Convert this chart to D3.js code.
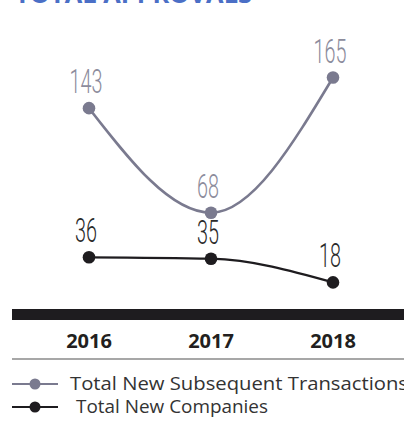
<!DOCTYPE html>
<html>
<head>
<meta charset="utf-8">
<script src="https://cdn.jsdelivr.net/npm/d3@7"></script>
<style>
  html, body { margin: 0; padding: 0; background: #fff; }
  svg { display: block; }
</style>
</head>
<body>
<svg id="chart" width="404" height="423"></svg>
<script>
// Yearly approval counts
const years = ["2016", "2017", "2018"];
const subsequentTransactions = [143, 68, 165];
const newCompanies = [36, 35, 18];
const seriesNames = ["Total New Subsequent Transactions", "Total New Companies"];
const titleText = "TOTAL APPROVALS";

const W = 404, H = 423;
const svg = d3.select("#chart");

const x = d3.scalePoint().domain(years).range([89, 333]);
const y = d3.scaleLinear().domain([0, 165]).range([307.5, 77.5]);

const greyLine = "#7a7a8f";
const greyLabel = "#8c8c9c";
const dark = "#1e1c1f";

// Title (runs off the top edge)
svg.append("text")
  .attr("x", 15).attr("y", 3)
  .attr("font-family", "Open Sans, sans-serif")
  .attr("font-weight", 700)
  .attr("font-size", 25)
  .attr("textLength", 237)
  .attr("lengthAdjust", "spacingAndGlyphs")
  .attr("fill", "#4b6fc6")
  .text(titleText);

const series = [
  { name: seriesNames[0], values: subsequentTransactions, stroke: greyLine, fill: greyLine, label: greyLabel, width: 2.6 },
  { name: seriesNames[1], values: newCompanies, stroke: dark, fill: dark, label: "#2a2a2a", width: 2.2 }
];

const line = d3.line()
  .x((d, i) => x(years[i]))
  .y(d => y(d))
  .curve(d3.curveMonotoneX);

series.forEach(s => {
  const g = svg.append("g");
  g.append("path")
    .attr("d", line(s.values))
    .attr("fill", "none")
    .attr("stroke", s.stroke)
    .attr("stroke-width", s.width);
  g.selectAll("circle")
    .data(s.values)
    .join("circle")
    .attr("cx", (d, i) => x(years[i]))
    .attr("cy", d => y(d))
    .attr("r", 6.3)
    .attr("fill", s.fill);
  // Value labels in a narrow light face
  g.selectAll("g.lbl")
    .data(s.values)
    .join("g")
    .attr("class", "lbl")
    .attr("transform", (d, i) => `translate(${x(years[i]) - 3},${y(d) - 15}) scale(0.6,1)`)
    .append("text")
    .attr("text-anchor", "middle")
    .attr("font-family", "Roboto, sans-serif")
    .attr("font-weight", 300)
    .attr("font-size", 33)
    .attr("fill", s.label)
    .text(d => d);
});

// Heavy baseline bar at zero
svg.append("rect")
  .attr("x", 12)
  .attr("y", y(0) + 1.5)
  .attr("width", W - 12)
  .attr("height", 11)
  .attr("fill", dark);

// Year labels
svg.selectAll("text.year")
  .data(years)
  .join("text")
  .attr("class", "year")
  .attr("x", d => x(d))
  .attr("y", 348)
  .attr("text-anchor", "middle")
  .attr("font-family", "Open Sans, sans-serif")
  .attr("font-weight", 700)
  .attr("font-size", 20)
  .attr("fill", "#231f20")
  .text(d => d);

// Thin separator under the years
svg.append("line")
  .attr("x1", 12).attr("x2", W)
  .attr("y1", 359).attr("y2", 359)
  .attr("stroke", "#8a8a8a")
  .attr("stroke-width", 1.5);

// Legend
const legendRows = [
  { s: series[0], y: 384, tx: 70, len: 338 },
  { s: series[1], y: 407, tx: 76, len: 192 }
];
legendRows.forEach(r => {
  const g = svg.append("g");
  g.append("line")
    .attr("x1", 12).attr("x2", 58)
    .attr("y1", r.y).attr("y2", r.y)
    .attr("stroke", r.s.stroke)
    .attr("stroke-width", 2.2);
  g.append("circle")
    .attr("cx", 35).attr("cy", r.y)
    .attr("r", 5.5)
    .attr("fill", r.s.fill);
  g.append("text")
    .attr("x", r.tx).attr("y", r.y + 6)
    .attr("font-family", "Open Sans, sans-serif")
    .attr("font-size", 18)
    .attr("textLength", r.len)
    .attr("lengthAdjust", "spacingAndGlyphs")
    .attr("fill", "#333")
    .text(r.s.name);
});
</script>
</body>
</html>
